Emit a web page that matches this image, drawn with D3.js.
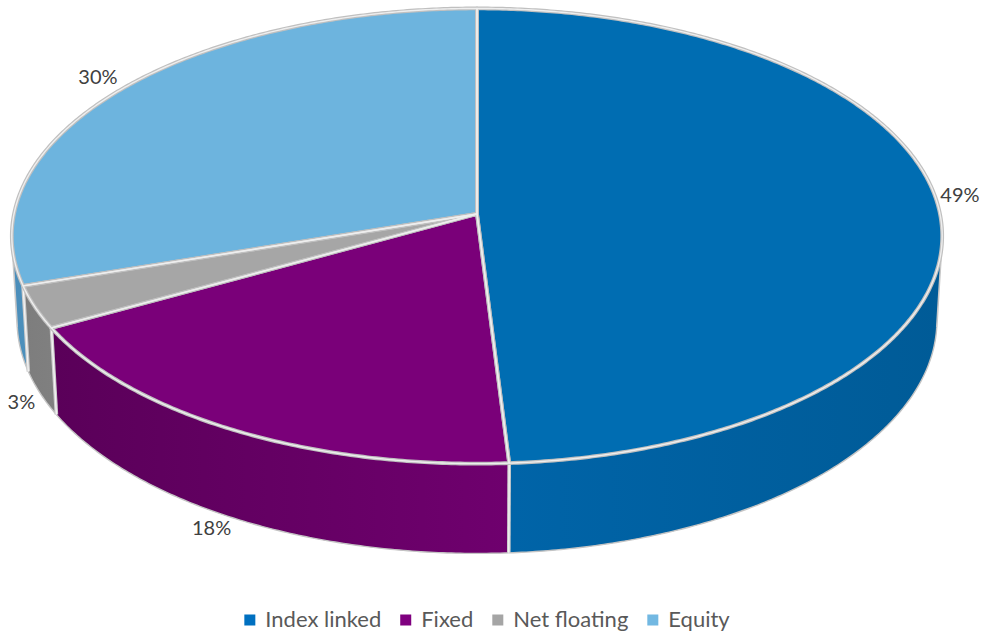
<!DOCTYPE html>
<html>
<head>
<meta charset="utf-8">
<script src="https://cdn.jsdelivr.net/npm/d3@7"></script>
<style>
  html, body { margin: 0; padding: 0; background: #ffffff; }
  svg { display: block; }
</style>
</head>
<body>
<svg id="chart" width="982" height="634"></svg>
<script>
// Debt and equity composition
const categories = ["Index linked", "Fixed", "Net floating", "Equity"];
const values = [49, 18, 3, 30];
const labels = ["49%", "18%", "3%", "30%"];
const legendColors = ["#0070c0", "#7f007f", "#a5a5a5", "#72b8e2"];
const topColors = ["#006db2", "#7a0079", "#a6a6a6", "#6db4de"];
const sideColorsLeft = ["#0064a8", "#5a0059", "#7d7d7d", "#4a8dba"];
const sideColorsRight = ["#005b97", "#6f006e", "#808080", "#4c90bc"];

const W = 982, H = 634;
const svg = d3.select("#chart");

// Perspective camera for the tilted disc
const cx = 477, cy = 214;      // screen position of the disc centre
const scale = 463;             // pixels per radius at the focal distance
const D = 9.02;                // camera distance (in radii)
const sa = 0.487, ca = Math.sqrt(1 - sa * sa); // tilt
const depth = 0.21;            // thickness of the disc (in radii)

function project(theta, r, h) {
  const u = r * Math.sin(theta);
  const v = -r * Math.cos(theta);
  const yc = v * sa - h * ca;
  const z = D - v * ca - h * sa;
  return [cx + scale * D * u / z, cy + scale * D * yc / z];
}

// Side wall faces the viewer where v > 1/(D*cos(tilt))
const vMin = 1 / (D * ca);
const visStart = Math.acos(-vMin);            // right silhouette
const visEnd = 2 * Math.PI - Math.acos(-vMin); // left silhouette

const pie = d3.pie().sort(null).value(d => d).startAngle(0).endAngle(2 * Math.PI);
const arcs = pie(values).map((a, i) => ({ ...a, i }));

const line = d3.line();
const STEP = Math.PI / 360;

function sampleAngles(a0, a1) {
  const n = Math.max(2, Math.ceil((a1 - a0) / STEP));
  return d3.range(n + 1).map(k => a0 + (a1 - a0) * k / n);
}

// gradients for the side walls
const defs = svg.append("defs");
arcs.forEach(a => {
  const g = defs.append("linearGradient")
    .attr("id", "side" + a.i)
    .attr("x1", "0%").attr("x2", "100%").attr("y1", "0%").attr("y2", "0%");
  g.append("stop").attr("offset", "0%").attr("stop-color", sideColorsLeft[a.i]);
  g.append("stop").attr("offset", "100%").attr("stop-color", sideColorsRight[a.i]);
});

const gSide = svg.append("g");
const gTop = svg.append("g");

// Side walls (front, visible part only)
const sideSegments = arcs.map(a => {
  const a0 = Math.max(a.startAngle, visStart);
  const a1 = Math.min(a.endAngle, visEnd);
  return a1 > a0 ? { i: a.i, a0, a1 } : null;
}).filter(Boolean);

sideSegments.forEach(s => {
  const angs = sampleAngles(s.a0, s.a1);
  const topPts = angs.map(t => project(t, 1, 0));
  const botPts = angs.slice().reverse().map(t => project(t, 1, -depth));
  gSide.append("path")
    .attr("d", line(topPts.concat(botPts)) + "Z")
    .attr("fill", `url(#side${s.i})`)
    .attr("stroke", "none");
  // lower rim
  gSide.append("path")
    .attr("d", line(angs.map(t => project(t, 1, -depth))))
    .attr("fill", "none")
    .attr("stroke", "#c4c4c4")
    .attr("stroke-width", 1.4);
});

// vertical seams on the wall: slice boundaries and silhouettes
const seamAngles = arcs.map(a => a.startAngle)
  .filter(t => t > visStart && t < visEnd);
seamAngles.forEach(t => {
  const p0 = project(t, 1, 0), p1 = project(t, 1, -depth);
  gSide.append("line")
    .attr("x1", p0[0]).attr("y1", p0[1]).attr("x2", p1[0]).attr("y2", p1[1])
    .attr("stroke", "#cdcdcd").attr("stroke-width", 3.6);
  gSide.append("line")
    .attr("x1", p0[0]).attr("y1", p0[1]).attr("x2", p1[0]).attr("y2", p1[1])
    .attr("stroke", "#f4f4f4").attr("stroke-width", 1.3);
});
[visStart, visEnd].forEach(t => {
  const p0 = project(t, 1, 0), p1 = project(t, 1, -depth);
  gSide.append("line")
    .attr("x1", p0[0]).attr("y1", p0[1]).attr("x2", p1[0]).attr("y2", p1[1])
    .attr("stroke", "#c8c8c8").attr("stroke-width", 1.6);
});

// Top faces
const topPaths = arcs.map(a => {
  const angs = sampleAngles(a.startAngle, a.endAngle);
  const pts = [project(0, 0, 0)].concat(angs.map(t => project(t, 1, 0)));
  return { i: a.i, d: line(pts) + "Z" };
});
gTop.selectAll("path.fill").data(topPaths).join("path")
  .attr("class", "fill")
  .attr("d", d => d.d)
  .attr("fill", d => topColors[d.i]);
gTop.selectAll("path.edge").data(topPaths).join("path")
  .attr("class", "edge")
  .attr("d", d => d.d)
  .attr("fill", "none")
  .attr("stroke", "#c0c0c0")
  .attr("stroke-width", 3.8)
  .attr("stroke-linejoin", "round");
gTop.selectAll("path.hl").data(topPaths).join("path")
  .attr("class", "hl")
  .attr("d", d => d.d)
  .attr("fill", "none")
  .attr("stroke", "#eeeeee")
  .attr("stroke-width", 1.4)
  .attr("stroke-linejoin", "round");

// Data labels just outside the rim
const gLab = svg.append("g")
  .attr("font-family", "Lato, 'Open Sans', sans-serif")
  .attr("font-size", 20)
  .attr("fill", "#404040");
arcs.forEach(a => {
  const mid = (a.startAngle + a.endAngle) / 2;
  const front = -Math.cos(mid) > 0;
  const p = project(mid, 1, front ? -depth : 0);
  const right = Math.sin(mid) > 0;
  gLab.append("text")
    .attr("x", p[0] + (right ? 2 : -5))
    .attr("y", p[1] + (front ? 9 : -12))
    .attr("dy", "0.35em")
    .attr("text-anchor", right ? "start" : "end")
    .text(labels[a.i]);
});

// Legend
const legendFont = 22;
const gLeg = svg.append("g")
  .attr("font-family", "Lato, 'Open Sans', sans-serif")
  .attr("font-size", legendFont)
  .attr("fill", "#595959");
const legY = 619;
const tmp = gLeg.append("text").attr("visibility", "hidden");
const widths = categories.map(c => { tmp.text(c); return tmp.node().getComputedTextLength(); });
tmp.remove();
const sw = 11, gapSwatch = 10, gapItem = 19;
const itemW = widths.map(w => sw + gapSwatch + w);
const total = d3.sum(itemW) + gapItem * (categories.length - 1);
let xPos = (W - total) / 2 - 4;
categories.forEach((c, i) => {
  const g = gLeg.append("g").attr("transform", `translate(${xPos},${legY})`);
  g.append("rect").attr("x", 0).attr("y", -sw / 2 + 1).attr("width", sw).attr("height", sw)
    .attr("fill", legendColors[i]);
  g.append("text").attr("x", sw + gapSwatch).attr("y", 0).attr("dy", "0.35em").text(c);
  xPos += itemW[i] + gapItem;
});
</script>
</body>
</html>
